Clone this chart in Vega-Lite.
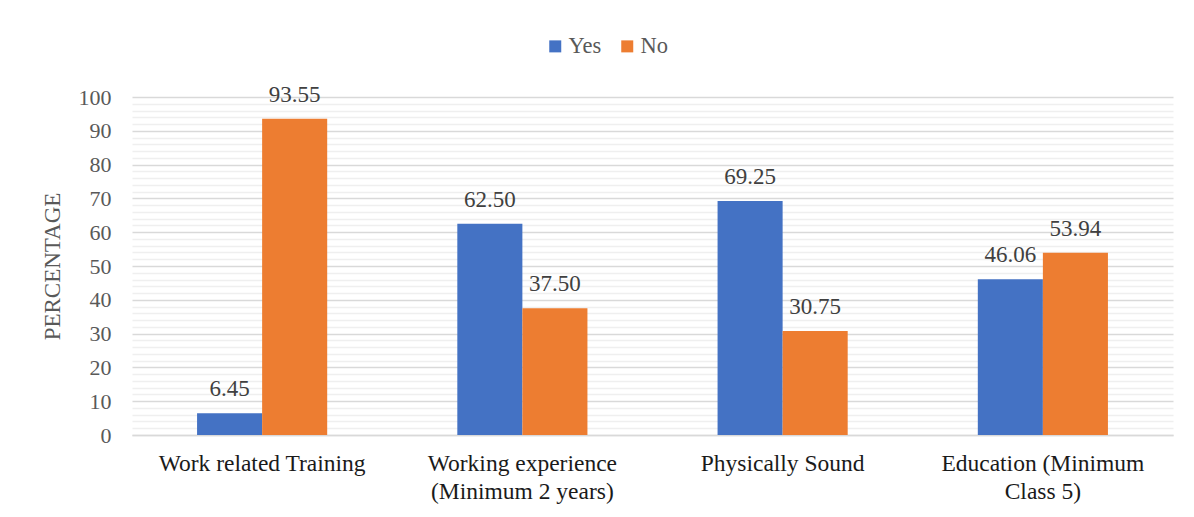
{
  "$schema": "https://vega.github.io/schema/vega-lite/v6.json",
  "width": 1041,
  "height": 338,
  "autosize": {"type": "none"},
  "padding": {"left": 132, "top": 97, "right": 21, "bottom": 82},
  "background": "white",
  "config": {
    "font": "Liberation Serif",
    "view": {"stroke": null}
  },
  "data": {
    "values": [
      {"criterion": "Work related Training", "response": "Yes", "percentage": 6.45},
      {"criterion": "Work related Training", "response": "No", "percentage": 93.55},
      {"criterion": "Working experience (Minimum 2 years)", "response": "Yes", "percentage": 62.50},
      {"criterion": "Working experience (Minimum 2 years)", "response": "No", "percentage": 37.50},
      {"criterion": "Physically Sound", "response": "Yes", "percentage": 69.25},
      {"criterion": "Physically Sound", "response": "No", "percentage": 30.75},
      {"criterion": "Education (Minimum Class 5)", "response": "Yes", "percentage": 46.06},
      {"criterion": "Education (Minimum Class 5)", "response": "No", "percentage": 53.94}
    ]
  },
  "encoding": {
    "x": {
      "field": "criterion",
      "type": "nominal",
      "sort": ["Work related Training", "Working experience (Minimum 2 years)", "Physically Sound", "Education (Minimum Class 5)"],
      "scale": {"paddingInner": 0.5, "paddingOuter": 0.25},
      "axis": {
        "title": null,
        "labelAngle": 0,
        "labelFont": "Liberation Serif",
        "labelFontSize": 23.5,
        "labelColor": "#1a1a1a",
        "labelPadding": 16,
        "labelLimit": 0,
        "labelLineHeight": 28,
        "labelBaseline": "top",
        "labelExpr": "datum.value === 'Working experience (Minimum 2 years)' ? ['Working experience', '(Minimum 2 years)'] : datum.value === 'Education (Minimum Class 5)' ? ['Education (Minimum', 'Class 5)'] : datum.value",
        "ticks": false,
        "domainColor": "#d9d9d9",
        "domainWidth": 1.5
      }
    },
    "xOffset": {"field": "response", "sort": ["Yes", "No"], "scale": {"paddingInner": 0, "paddingOuter": 0}},
    "y": {
      "field": "percentage",
      "type": "quantitative",
      "scale": {"domain": [0, 100], "nice": false},
      "axis": {
        "title": "PERCENTAGE",
        "titleFont": "Liberation Serif",
        "titleFontSize": 23,
        "titleFontWeight": "normal",
        "titleColor": "#595959",
        "titlePadding": 14,
        "values": [0, 2, 4, 6, 8, 10, 12, 14, 16, 18, 20, 22, 24, 26, 28, 30, 32, 34, 36, 38, 40, 42, 44, 46, 48, 50, 52, 54, 56, 58, 60, 62, 64, 66, 68, 70, 72, 74, 76, 78, 80, 82, 84, 86, 88, 90, 92, 94, 96, 98, 100],
        "labelExpr": "datum.value % 10 === 0 ? datum.label : ''",
        "labelFont": "Liberation Serif",
        "labelFontSize": 22,
        "labelColor": "#595959",
        "labelPadding": 21,
        "ticks": false,
        "domain": false,
        "grid": true,
        "gridColor": {"condition": {"test": "datum.value % 10 === 0", "value": "#d9d9d9"}, "value": "#efefef"},
        "gridWidth": 1.5
      }
    }
  },
  "layer": [
    {
      "mark": {"type": "bar"},
      "encoding": {
        "color": {
          "field": "response",
          "type": "nominal",
          "sort": ["Yes", "No"],
          "scale": {"domain": ["Yes", "No"], "range": ["#4472c4", "#ed7d31"]},
          "legend": {
            "title": null,
            "orient": "none",
            "direction": "horizontal",
            "legendX": 412,
            "legendY": -62,
            "symbolType": "square",
            "symbolSize": 144,
            "symbolStrokeWidth": 0,
            "labelFont": "Liberation Serif",
            "labelFontSize": 22.5,
            "labelColor": "#595959",
            "labelOffset": 2,
            "columnPadding": 14
          }
        }
      }
    },
    {
      "mark": {"type": "text", "baseline": "alphabetic", "dy": -17, "font": "Liberation Serif", "fontSize": 23, "color": "#404040"},
      "encoding": {
        "text": {"field": "percentage", "type": "quantitative", "format": ".2f"}
      }
    }
  ]
}
